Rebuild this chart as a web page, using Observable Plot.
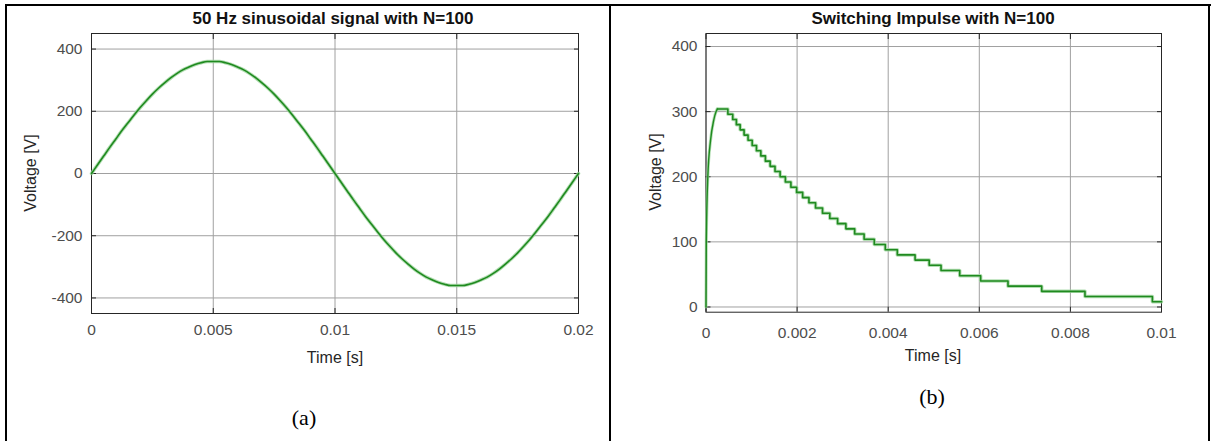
<!DOCTYPE html>
<html>
<head>
<meta charset="utf-8">
<script src="https://cdn.jsdelivr.net/npm/d3@7"></script>
<script src="https://cdn.jsdelivr.net/npm/@observablehq/plot@0.6"></script>
<style>
  body { margin: 0; background: #fff; }
  #page { position: relative; width: 1211px; height: 441px; overflow: hidden; background: #fff;
          font-family: "Liberation Sans", Arial, Helvetica, sans-serif; }
  .rule { position: absolute; background: #000; }
  .title { position: absolute; font-weight: bold; font-size: 17px; color: #111;
           transform: translate(-50%, -50%); white-space: nowrap; line-height: 1; }
  .xlabel { position: absolute; font-size: 16px; color: #262626; transform: translate(-50%, -50%);
            white-space: nowrap; line-height: 1; }
  .ylabel { position: absolute; font-size: 16px; color: #262626; white-space: nowrap; line-height: 1;
            transform: translate(-50%, -50%) rotate(-90deg); }
  .cap { position: absolute; font-family: "Liberation Serif", "Times New Roman", serif; font-size: 22px;
         color: #000; transform: translate(-50%, -50%); line-height: 1; }
  .chart { position: absolute; top: 0; }
</style>
</head>
<body>
<div id="page">
  <div class="rule" style="left:5px;top:4px;width:1206px;height:2px"></div>
  <div class="rule" style="left:5px;top:4px;width:2px;height:437px"></div>
  <div class="rule" style="left:609px;top:4px;width:2px;height:437px"></div>
  <div class="rule" style="left:1208px;top:4px;width:2px;height:437px"></div>

  <div id="chartA" class="chart" style="left:0"></div>
  <div id="chartB" class="chart" style="left:611px"></div>

  <div class="title" style="left:333px;top:18px">50 Hz sinusoidal signal with N=100</div>
  <div class="ylabel" style="left:31px;top:173px">Voltage [V]</div>
  <div class="xlabel" style="left:335px;top:358px">Time [s]</div>
  <div class="cap" style="left:304px;top:418px">(a)</div>

  <div class="title" style="left:933px;top:18px">Switching Impulse with N=100</div>
  <div class="ylabel" style="left:656px;top:172px">Voltage [V]</div>
  <div class="xlabel" style="left:933px;top:356px">Time [s]</div>
  <div class="cap" style="left:932px;top:397px">(b)</div>
</div>
<script>
// ---- (a) 50 Hz sinusoid, sampled every 0.25 ms over one period ----
const sineStep = 0.00025; // s between samples
const sineValues = [
  0, 28, 56, 84, 111, 138, 163, 188, 212, 234, 255, 274, 291, 307, 321, 333, 342, 350, 356, 360,
  360, 360, 356, 350, 342, 333, 321, 307, 291, 274, 255, 234, 212, 188, 163, 138, 111, 84, 56, 28,
  0, -28, -56, -84, -111, -138, -163, -188, -212, -234, -255, -274, -291, -307, -321, -333, -342, -350, -356, -360,
  -360, -360, -356, -350, -342, -333, -321, -307, -291, -274, -255, -234, -212, -188, -163, -138, -111, -84, -56, -28,
  0
];
const xTicksA = [0, 0.005, 0.01, 0.015, 0.02];
const xTickLabelsA = ["0", "0.005", "0.01", "0.015", "0.02"];
const yTicksA = [-400, -200, 0, 200, 400];
const yTickLabelsA = ["-400", "-200", "0", "200", "400"];

// ---- (b) switching impulse: fast front, then quantised (8 V) staircase decay ----
const riseTimes  = [0, 0.000007, 0.00004, 0.0001, 0.00017, 0.00022, 0.00025];
const riseValues = [0, 100, 200, 256, 287, 300, 304];
const stepTimes = [
  0.00025, 0.00048, 0.000587, 0.000667, 0.00075, 0.000836, 0.000923, 0.001014, 0.001108, 0.001204,
  0.001304, 0.001408, 0.001515, 0.001627, 0.001743, 0.001864, 0.00199, 0.002122, 0.00226, 0.002405,
  0.002558, 0.002718, 0.002889, 0.003071, 0.003264, 0.003471, 0.003694, 0.003936, 0.0042, 0.00459,
  0.0049, 0.00516, 0.00557, 0.00603, 0.00663, 0.00737, 0.00832, 0.0098, 0.01
];
const stepLevels = [
  304, 296, 288, 280, 272, 264, 256, 248, 240, 232,
  224, 216, 208, 200, 192, 184, 176, 168, 160, 152,
  144, 136, 128, 120, 112, 104, 96, 88, 80, 72,
  64, 56, 48, 40, 32, 24, 16, 8, 8
];
const xTicksB = [0, 0.002, 0.004, 0.006, 0.008, 0.01];
const xTickLabelsB = ["0", "0.002", "0.004", "0.006", "0.008", "0.01"];
const yTicksB = [0, 100, 200, 300, 400];
const yTickLabelsB = ["0", "100", "200", "300", "400"];

const sine = sineValues.map((v, i) => ({t: i * sineStep, v}));
const rise = riseTimes.map((t, i) => ({t, v: riseValues[i]}));
const stairs = stepTimes.map((t, i) => ({t, v: stepLevels[i]}));

const green = "#1f8a1f";
const halo = "#9fd49f";
const gridColor = "#a0a0a0";
const frameColor = "#262626";
const tickColor = "#4d4d4d";
const fontStack = '"Liberation Sans", Arial, Helvetica, sans-serif';

function labelFor(ticks, labels) {
  return d => labels[ticks.indexOf(d)] ?? String(d);
}

// MATLAB-style box: inward tick marks on all four sides, labels on bottom/left only
function boxAxes(xTicks, xLabels, yTicks, yLabels, xPad, yPad) {
  const none = () => "";
  return [
    Plot.axisX(xTicks, {anchor: "bottom", tickSize: -5, tickPadding: xPad + 5, stroke: frameColor,
      tickFormat: labelFor(xTicks, xLabels), label: null}),
    Plot.axisX(xTicks, {anchor: "top", tickSize: -5, stroke: frameColor, tickFormat: none, label: null}),
    Plot.axisY(yTicks, {anchor: "left", tickSize: -5, tickPadding: yPad + 5, stroke: frameColor,
      tickFormat: labelFor(yTicks, yLabels), label: null}),
    Plot.axisY(yTicks, {anchor: "right", tickSize: -5, stroke: frameColor, tickFormat: none, label: null})
  ];
}

const chartA = Plot.plot({
  width: 605, height: 441,
  marginLeft: 91, marginRight: 27, marginTop: 33, marginBottom: 128,
  x: {domain: [0, 0.02]},
  y: {domain: [-450, 450]},
  style: {fontSize: "15.5px", fontFamily: fontStack, color: tickColor, background: "transparent", overflow: "visible"},
  marks: [
    Plot.gridX(xTicksA, {stroke: gridColor, strokeOpacity: 1}),
    Plot.gridY(yTicksA, {stroke: gridColor, strokeOpacity: 1}),
    Plot.frame({stroke: frameColor}),
    ...boxAxes(xTicksA, xTickLabelsA, yTicksA, yTickLabelsA, 10, 9),
    Plot.line(sine, {x: "t", y: "v", curve: "monotone-x", stroke: halo, strokeWidth: 3.5, strokeOpacity: 0.8}),
    Plot.line(sine, {x: "t", y: "v", curve: "monotone-x", stroke: green, strokeWidth: 1.6})
  ]
});
document.getElementById("chartA").append(chartA);

const chartB = Plot.plot({
  width: 600, height: 441,
  marginLeft: 94.5, marginRight: 50, marginTop: 33, marginBottom: 129.3,
  x: {domain: [0, 0.01]},
  y: {domain: [-8, 420]},
  style: {fontSize: "15.5px", fontFamily: fontStack, color: tickColor, background: "transparent", overflow: "visible"},
  marks: [
    Plot.gridX(xTicksB, {stroke: gridColor, strokeOpacity: 1}),
    Plot.gridY(yTicksB, {stroke: gridColor, strokeOpacity: 1}),
    Plot.frame({stroke: frameColor}),
    ...boxAxes(xTicksB, xTickLabelsB, yTicksB, yTickLabelsB, 15, 8.5),
    Plot.line(rise, {x: "t", y: "v", curve: "monotone-x", stroke: halo, strokeWidth: 3, strokeOpacity: 0.8}),
    Plot.line(stairs, {x: "t", y: "v", curve: "step-after", stroke: halo, strokeWidth: 3.5, strokeOpacity: 0.8}),
    Plot.line(rise, {x: "t", y: "v", curve: "monotone-x", stroke: green, strokeWidth: 1.4}),
    Plot.line(stairs, {x: "t", y: "v", curve: "step-after", stroke: green, strokeWidth: 1.6})
  ]
});
document.getElementById("chartB").append(chartB);
</script>
</body>
</html>
